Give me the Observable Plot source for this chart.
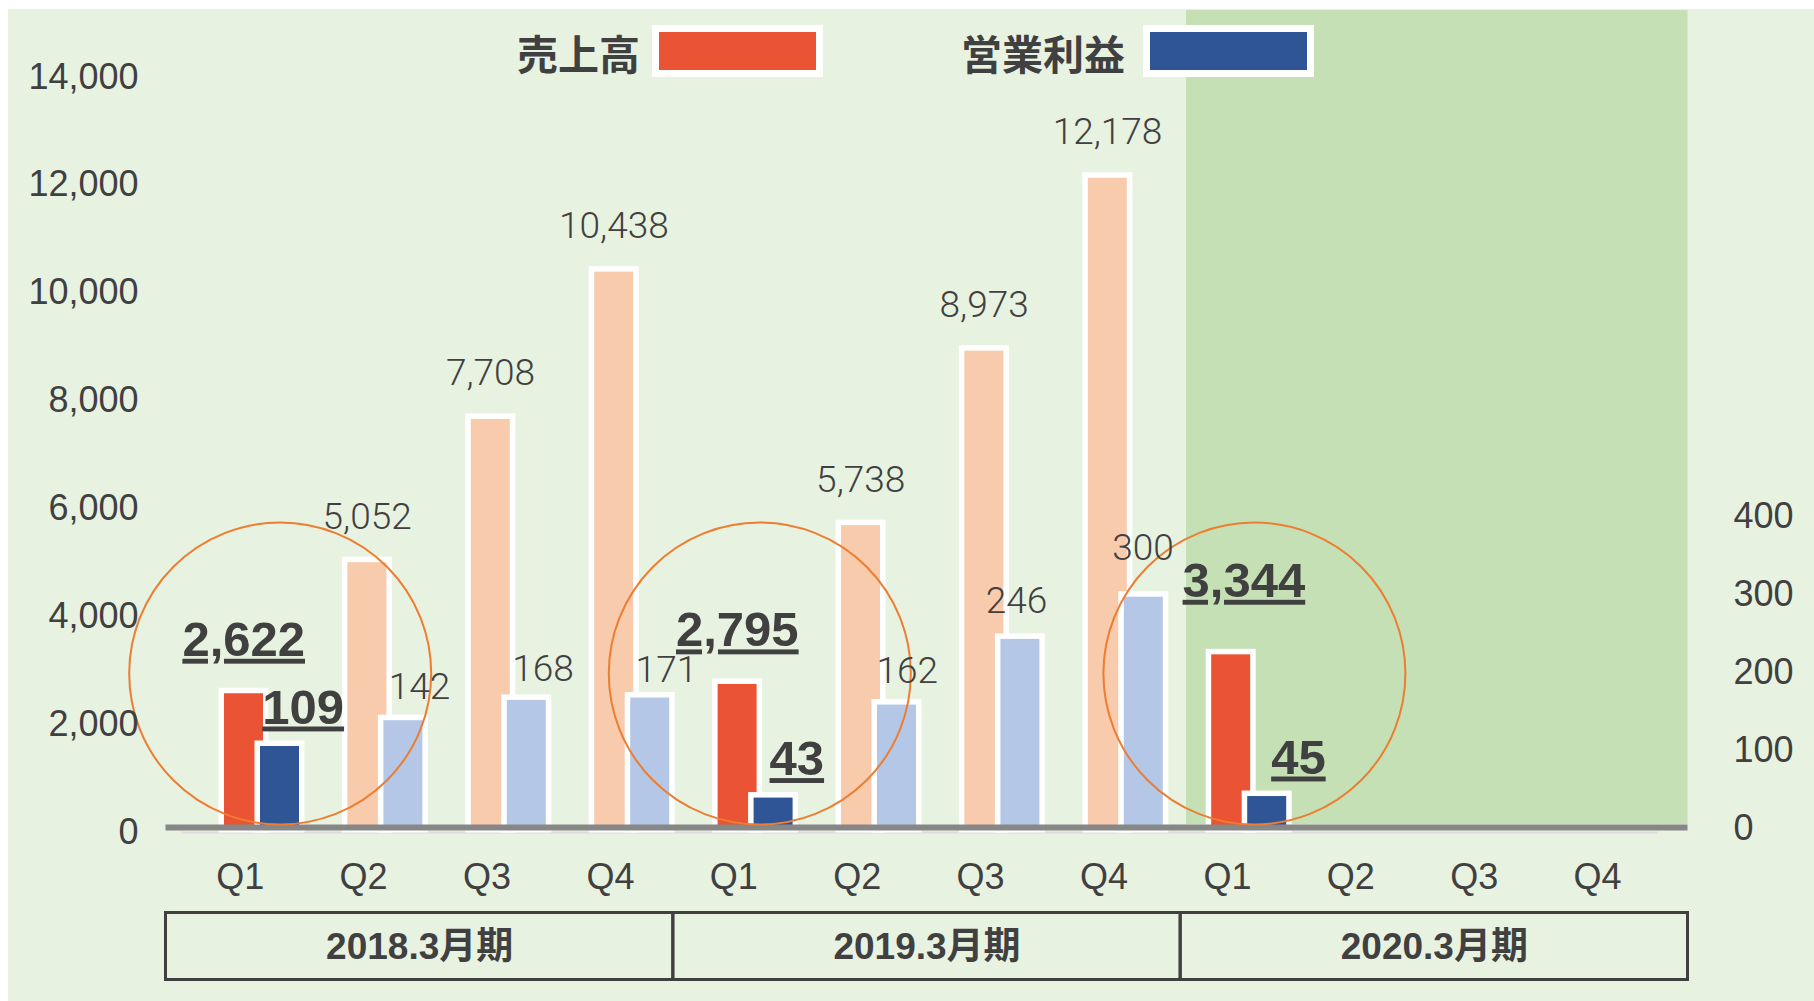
<!DOCTYPE html>
<html>
<head>
<meta charset="utf-8">
<script src="https://cdn.jsdelivr.net/npm/d3@7"></script>
<script src="https://cdn.jsdelivr.net/npm/@observablehq/plot@0.6"></script>
<style>
html, body { margin: 0; padding: 0; background: #ffffff; overflow: hidden; }
#wrap { position: relative; width: 1814px; height: 1001px; }
#bg { position: absolute; left: 8px; top: 9px; right: 0; bottom: 0; background: #E8F2E1; }
#chart { position: absolute; left: 0; top: 0; }
#legend { position: absolute; left: 0; top: 0; width: 1814px; height: 100px; z-index: 2; }
.lg-label { position: absolute; top: 51.5px; transform: translateY(-50%); line-height: 1;
  font-family: "Noto Sans CJK JP", sans-serif; font-weight: 700; font-size: 41px; color: #404040; white-space: nowrap; }
.lg-swatch { position: absolute; top: 25px; box-sizing: content-box; width: 157px; height: 38px; border: 7px solid #ffffff; }
text[aria-label="hl"], [aria-label="hl"] text { text-decoration: underline; }
</style>
</head>
<body>
<div id="wrap">
  <div id="bg"></div>
  <div id="chart"></div>
  <div id="legend"></div>
</div>
<script>
// ---- data ----
const periods = ["2018.3月期", "2019.3月期", "2020.3月期"];
const quarters = ["Q1", "Q2", "Q3", "Q4"];
const seriesNames = ["売上高", "営業利益"];
const sales = [2622, 5052, 7708, 10438, 2795, 5738, 8973, 12178, 3344, null, null, null];
const profit = [109, 142, 168, 171, 43, 162, 246, 300, 45, null, null, null];
const leftTicks = [0, 2000, 4000, 6000, 8000, 10000, 12000, 14000];
const rightTicks = [0, 100, 200, 300, 400];

// ---- colors ----
const salesStrong = "#EA5434", salesLight = "#F8CBAD";
const profitStrong = "#2F5597", profitLight = "#B4C7E7";
const textColor = "#404040";

// ---- layout (pixels) ----
const W = 1814, H = 1001;
const X0 = 165.5, X1 = 1687.5;         // frame left/right
const Y0 = 834.7, YT = 79.5;           // y(0), y(14000)
const pitch = 123.4, firstCenter = 261.7;
const xDomain = [(X0 - firstCenter) / pitch, (X1 - firstCenter) / pitch];
const span = (xDomain[1] - xDomain[0]) / periods.length;
const yMax = 14000;
const k = 14.49;                        // secondary axis factor
const pDy = -3.5;                       // secondary axis baseline shift
const xInv = px => xDomain[0] + (px - X0) / pitch;
const yInv = px => (Y0 - px) / (Y0 - YT) * yMax;
const u = px => px / pitch;             // pixel width to x units

// label nudges (layout only, pixels) keyed by series and index
const nudge = {
  "sales-8": [13, -20],
  "profit-2": [0, 3],
  "profit-3": [0, 6],
  "profit-6": [-20, -4],
  "profit-7": [-17, -15],
  "profit-5": [-6, 0],
  "profit-8": [8, 0]
};
const nx = (s, i) => (nudge[s + "-" + i] || [0, 0])[0];
const ny = (s, i) => (nudge[s + "-" + i] || [0, 0])[1];
const circleDx = [18, 4, 5];

const rows = [];
periods.forEach((p, pi) => quarters.forEach((q, qi) => {
  const i = pi * 4 + qi;
  rows.push({i, pi, period: p, quarter: q, sales: sales[i], profit: profit[i], hl: q === "Q1"});
}));
const salesRows = rows.filter(d => d.sales != null);
const profitRows = rows.filter(d => d.profit != null);
const fmt = d3.format(",");

const bw = u(39);
const labelFont = "Roboto, 'Liberation Sans', sans-serif";
const tickFont = "'Liberation Sans', Arial, sans-serif";
const boldFont = "'Liberation Sans', 'Noto Sans CJK JP', sans-serif";

const marks = [
  // shaded future period
  Plot.rect([periods[2]], {x1: () => xInv(1186), x2: () => xDomain[1], y1: () => yInv(824), y2: () => yInv(10), fill: "#C5E0B4"}),
  // faint line under axis
  Plot.ruleY([0], {x1: () => xInv(181.7), x2: () => xInv(1657.7), stroke: "#DCDCDC", strokeWidth: 2, dy: -2.7}),
  // sales bars
  Plot.rect(salesRows, {
    x1: d => d.i - u(37.7), x2: d => d.i - u(37.7) + bw,
    y1: () => yInv(827), y2: d => d.sales,
    fill: d => d.hl ? salesStrong : salesLight,
    stroke: "#ffffff", strokeWidth: 11, paintOrder: "stroke"
  }),
  // profit bars (secondary axis)
  Plot.rect(profitRows, {
    x1: d => d.i - u(1.7), x2: d => d.i - u(1.7) + bw,
    y1: () => yInv(830.5), y2: d => d.profit * k, dy: pDy,
    fill: d => d.hl ? profitStrong : profitLight,
    stroke: "#ffffff", strokeWidth: 11, paintOrder: "stroke"
  }),
  // axis line
  Plot.ruleY([0], {x1: () => xDomain[0], x2: () => xDomain[1], stroke: "#878787", strokeWidth: 6, dy: -7.7}),
  // highlight circles
  Plot.dot(rows.filter(d => d.hl && d.sales != null), {
    x: d => d.i + u(circleDx[d.pi]), y: () => yInv(673), r: 151,
    fill: "none", stroke: "#ED7D31", strokeWidth: 2
  })
];

// value labels: each label gets its own small text mark so that nudges stay in pixels
salesRows.forEach(d => {
  marks.push(Plot.text([d], {
    x: r => r.i, y: r => r.sales,
    dx: -18.5 + nx("sales", d.i), dy: (d.hl ? -38 : -34) + ny("sales", d.i), lineAnchor: "bottom",
    text: r => fmt(r.sales), fill: textColor,
    fontFamily: d.hl ? boldFont : labelFont, fontWeight: d.hl ? 700 : 300, fontSize: d.hl ? 49 : 37,
    ...(d.hl ? {ariaLabel: () => "hl"} : {})
  }));
});
profitRows.forEach(d => {
  marks.push(Plot.text([d], {
    x: r => r.i, y: r => r.profit * k,
    dx: (d.hl ? 41 : 34) + nx("profit", d.i), dy: pDy + (d.hl ? -23 : -22) + ny("profit", d.i), lineAnchor: "bottom",
    text: r => fmt(r.profit), fill: textColor,
    fontFamily: d.hl ? boldFont : labelFont, fontWeight: d.hl ? 700 : 300, fontSize: d.hl ? 49 : 37,
    ...(d.hl ? {ariaLabel: () => "hl"} : {})
  }));
});

marks.push(
  // left axis labels
  Plot.text(leftTicks, {
    x: () => xDomain[0], y: d => d, dx: -27.5, dy: -3, textAnchor: "end",
    text: d => fmt(d), fontFamily: tickFont, fontSize: 36, fill: textColor
  }),
  // right axis labels
  Plot.text(rightTicks, {
    x: () => xDomain[1], y: d => d * k, dx: 45.5, dy: pDy - 3, textAnchor: "start",
    text: d => fmt(d), fontFamily: tickFont, fontSize: 36, fill: textColor
  }),
  // quarter labels
  Plot.text(rows, {
    x: d => d.i, y: () => yInv(877), dx: -22,
    text: d => d.quarter, fontFamily: tickFont, fontSize: 36, fill: textColor
  }),
  // period boxes
  Plot.rect(periods, {
    x1: (d, i) => xDomain[0] + i * span, x2: (d, i) => xDomain[0] + (i + 1) * span,
    y1: () => yInv(979.5), y2: () => yInv(912.5),
    fill: "none", stroke: textColor, strokeWidth: 3
  }),
  // period labels
  Plot.text(periods, {
    x: (d, i) => xDomain[0] + (i + 0.5) * span, y: () => yInv(947),
    text: d => d, fontFamily: boldFont, fontWeight: 700, fontSize: 37, fill: textColor
  })
);

const chart = Plot.plot({
  width: W, height: H,
  marginLeft: X0, marginRight: W - X1, marginTop: YT, marginBottom: H - Y0,
  style: {background: "transparent", overflow: "visible"},
  x: {type: "linear", domain: xDomain, axis: null},
  y: {type: "linear", domain: [0, yMax], axis: null},
  marks
});
document.getElementById("chart").appendChild(chart);

// ---- legend (HTML) ----
const legend = document.getElementById("legend");
const legendItems = [
  {name: seriesNames[0], color: salesStrong, labelLeft: 517, swatchLeft: 652},
  {name: seriesNames[1], color: profitStrong, labelLeft: 961, swatchLeft: 1143}
];
legendItems.forEach(it => {
  const lab = document.createElement("div");
  lab.className = "lg-label";
  lab.style.left = it.labelLeft + "px";
  lab.textContent = it.name;
  legend.appendChild(lab);
  const sw = document.createElement("div");
  sw.className = "lg-swatch";
  sw.style.left = it.swatchLeft + "px";
  sw.style.background = it.color;
  legend.appendChild(sw);
});
</script>
</body>
</html>
